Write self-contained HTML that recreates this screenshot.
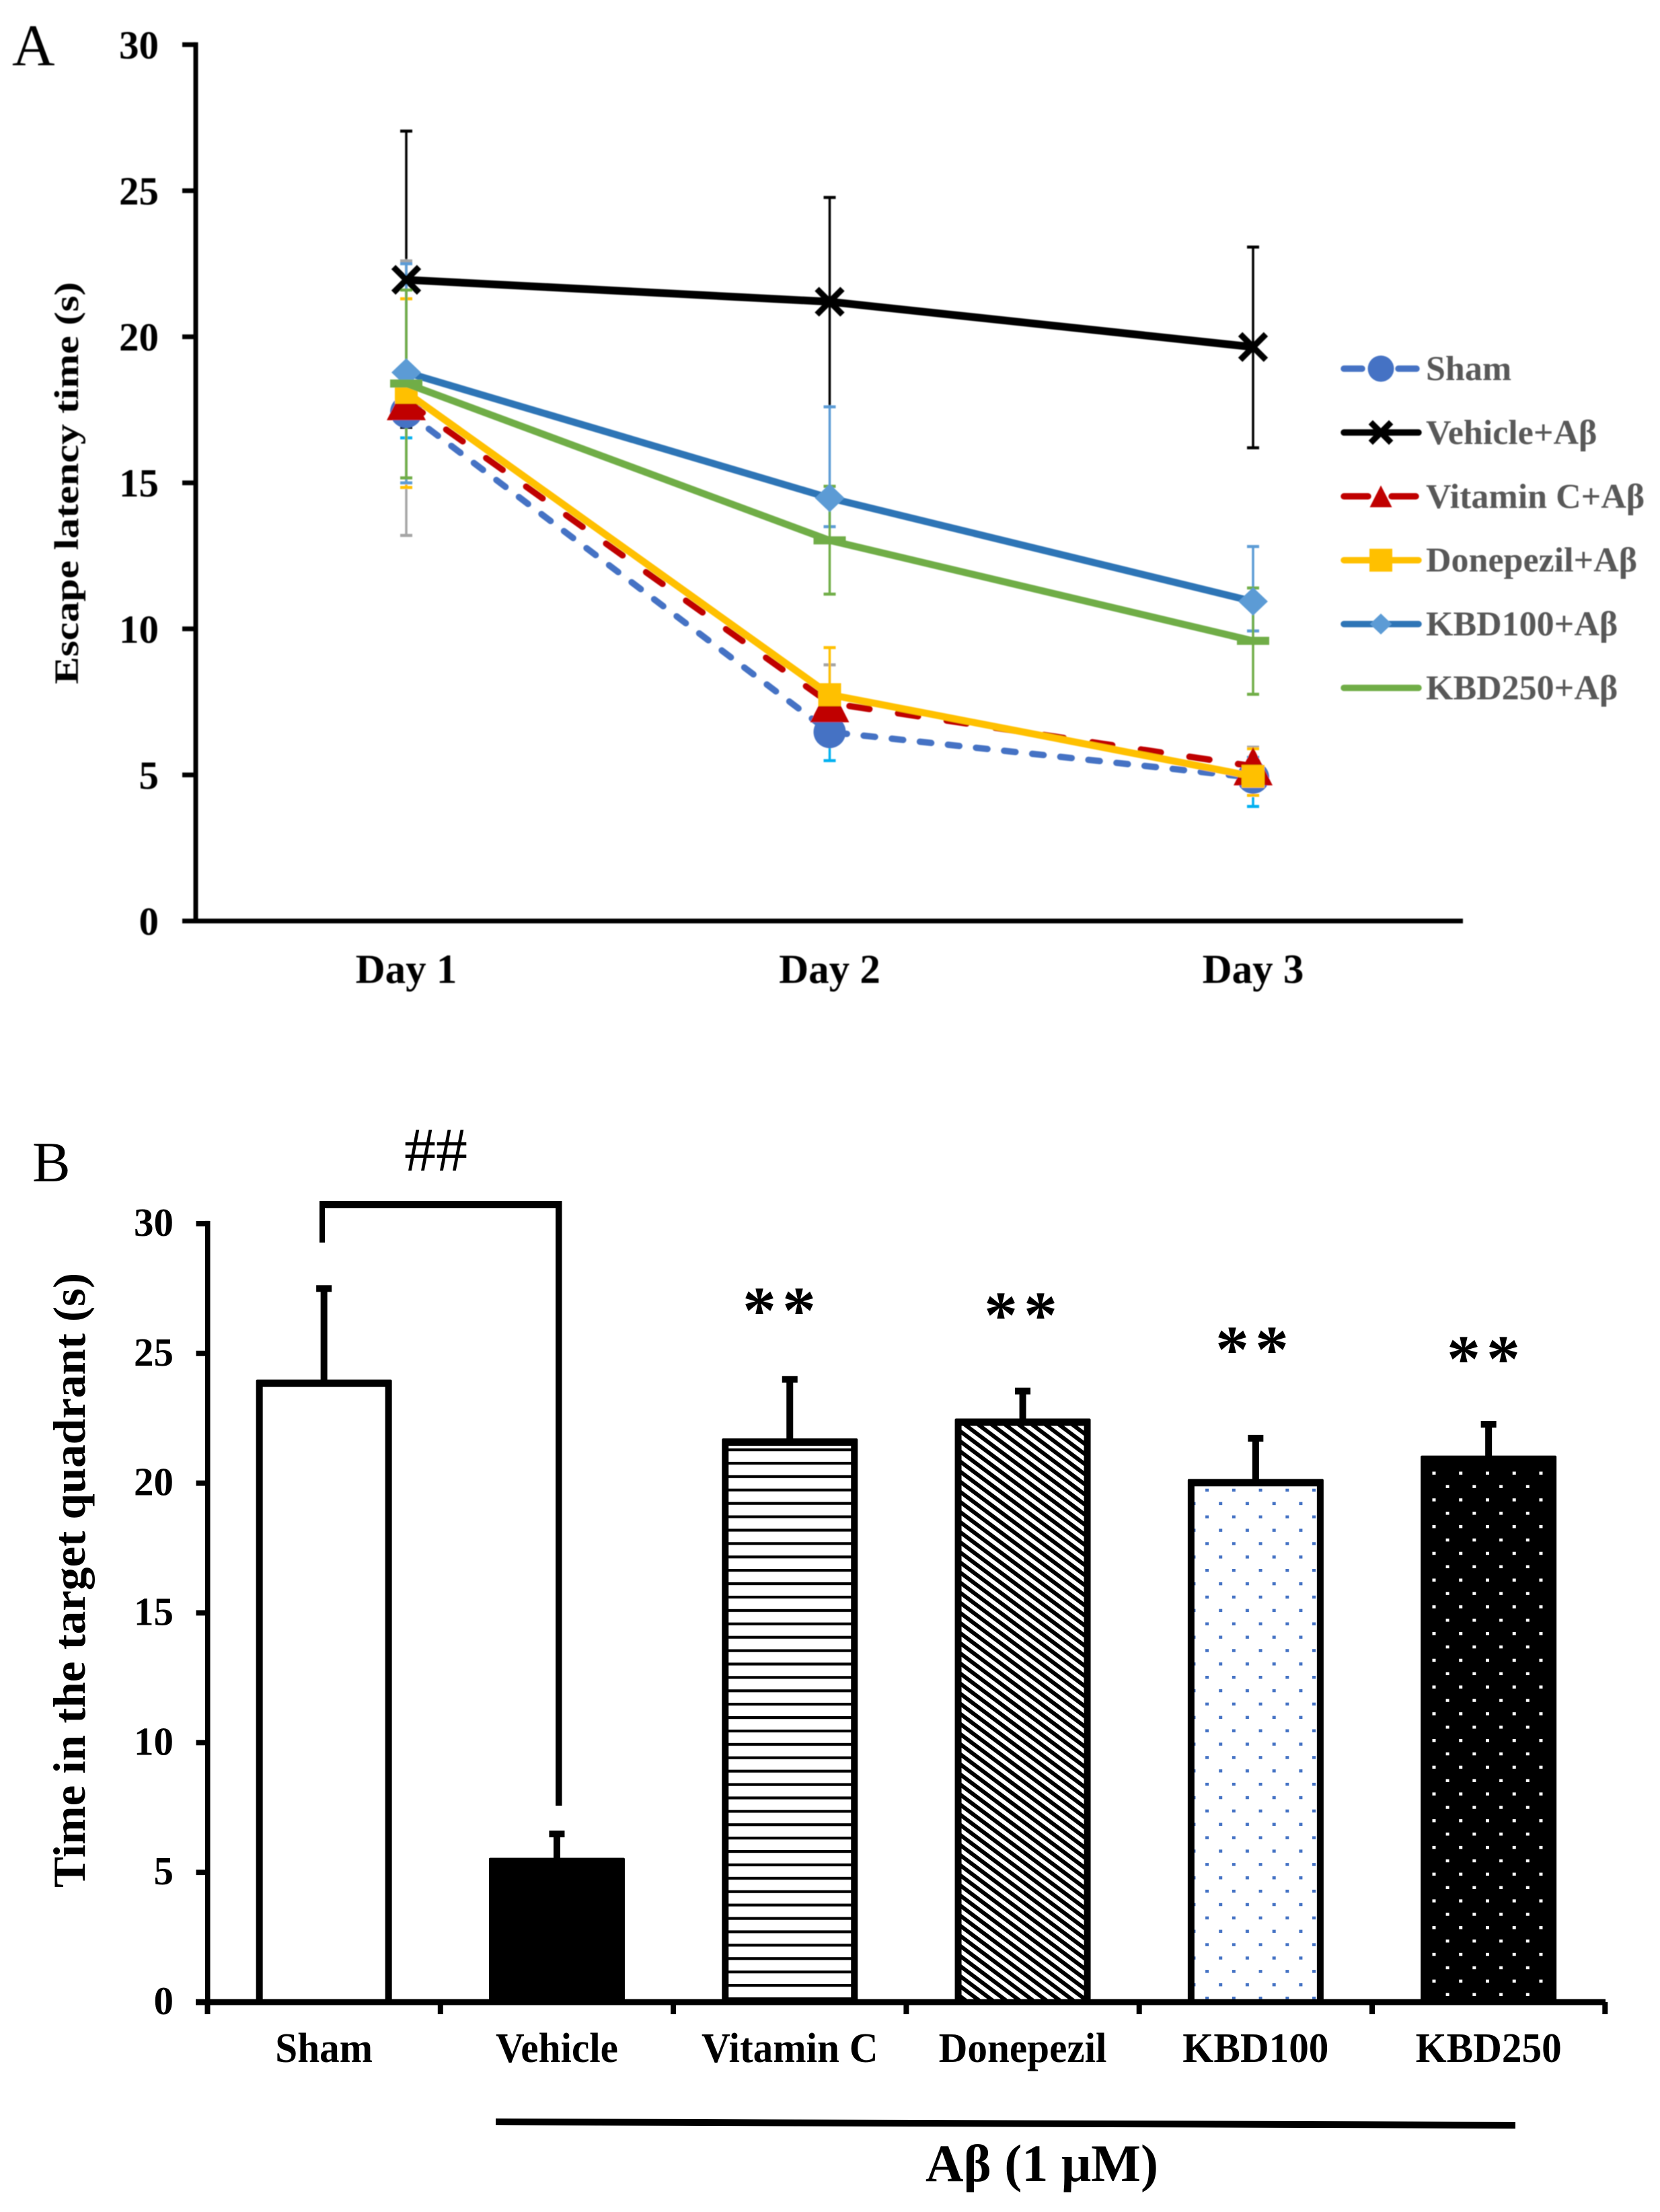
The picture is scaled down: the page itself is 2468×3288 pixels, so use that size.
<!DOCTYPE html>
<html lang="en">
<head>
<meta charset="utf-8">
<title>Escape latency and time in target quadrant</title>
<style>
html,body{margin:0;padding:0;background:#fff;}
svg{display:block;}
text{font-family:"Liberation Serif","Noto Serif CJK SC",serif;}
.b{font-weight:bold;}
</style>
</head>
<body>
<svg id="fig" xmlns="http://www.w3.org/2000/svg" width="2468" height="3288" viewBox="0 0 2468 3288">
<defs>
  <filter id="soft" filterUnits="userSpaceOnUse" x="0" y="0" width="2468" height="1600"><feGaussianBlur stdDeviation="0.9"/></filter>
  <pattern id="hlines" patternUnits="userSpaceOnUse" x="0" y="2153" width="100" height="19.9">
    <rect width="100" height="19.9" fill="#fff"/><rect width="100" height="4.2" fill="#000"/>
  </pattern>
  <pattern id="diag" patternUnits="userSpaceOnUse" x="1430" y="2118" width="20" height="15">
    <rect width="20" height="15" fill="#fff"/>
    <polygon points="0,0 10,0 20,7.5 20,15" fill="#000"/>
    <polygon points="0,7.5 10,15 0,15" fill="#000"/>
  </pattern>
  <pattern id="bluedots" patternUnits="userSpaceOnUse" x="1792.1" y="2212.8" width="39.74" height="39.74">
    <rect width="39.74" height="39.74" fill="#fff"/>
    <rect width="5" height="4.5" fill="#4472C4"/>
    <rect x="20.1" y="19.87" width="5" height="4.5" fill="#4472C4"/>
  </pattern>
  <pattern id="whitedots" patternUnits="userSpaceOnUse" x="2129.5" y="2187.5" width="39.74" height="39.74">
    <rect width="39.74" height="39.74" fill="#000"/>
    <rect width="5" height="4.5" fill="#fff"/>
    <rect x="20.1" y="19.87" width="5" height="4.5" fill="#fff"/>
  </pattern>
</defs>
<rect width="2468" height="3288" fill="#fff"/>

<g filter="url(#soft)">
<text x="18" y="97" font-size="88">A</text>
<text transform="translate(116,1017) rotate(-90)" class="b" font-size="51" textLength="598" lengthAdjust="spacingAndGlyphs">Escape latency time (s)</text>
<g id="chartA"></g>
<g id="legendA"></g>
</g>

<text x="48" y="1756" font-size="85">B</text>
<text transform="translate(126,2806) rotate(-90)" class="b" font-size="68" textLength="914" lengthAdjust="spacingAndGlyphs">Time in the target quadrant (s)</text>
<g id="chartB"></g>

<g fill="#000">
  <rect x="475" y="1785" width="360.5" height="11"/>
  <rect x="475" y="1785" width="8" height="62"/>
  <rect x="826" y="1785" width="9.5" height="899"/>
</g>
<text x="601" y="1740" font-size="92" textLength="94" lengthAdjust="spacingAndGlyphs">##</text>
<text x="1104" y="1981" class="b" font-size="100" letter-spacing="9">**</text>
<text x="1463" y="1988" class="b" font-size="100" letter-spacing="9">**</text>
<text x="1807" y="2039" class="b" font-size="100" letter-spacing="9">**</text>
<text x="2151" y="2053" class="b" font-size="100" letter-spacing="9">**</text>

<line x1="737" y1="3154" x2="2253" y2="3159" stroke="#000" stroke-width="10"/>
<text x="1376" y="3242" class="b" font-size="78" textLength="346" lengthAdjust="spacingAndGlyphs">Aβ (1 μM)</text>
</svg>

<script>
// ---------- Panel A data ----------
const dayLabels = ['Day 1', 'Day 2', 'Day 3'];
const yTicksA = [0, 5, 10, 15, 20, 25, 30];
const seriesNames = ['Sham', 'Vehicle+Aβ', 'Vitamin C+Aβ', 'Donepezil+Aβ', 'KBD100+Aβ', 'KBD250+Aβ'];

const shamMeans = [17.43, 6.47, 4.91];
const shamUpper = [18.1, 7.4, 5.6];
const shamLower = [16.54, 5.49, 3.92];

const vehicleMeans = [21.95, 21.2, 19.65];
const vehicleUpper = [27.04, 24.77, 23.07];
const vehicleLower = [16.9, 17.6, 16.2];

const vitaminMeans = [17.8, 7.46, 5.3];
const vitaminUpper = [22.6, 8.77, 5.95];
const vitaminLower = [13.2, 6.1, 4.6];

const donepezilMeans = [18.1, 7.75, 4.95];
const donepezilUpper = [21.3, 9.36, 5.9];
const donepezilLower = [14.84, 6.1, 4.3];

const kbd100Means = [18.78, 14.48, 10.94];
const kbd100Upper = [22.5, 17.6, 12.82];
const kbd100Lower = [15.0, 13.5, 9.93];

const kbd250Means = [18.4, 13.03, 9.59];
const kbd250Upper = [21.6, 14.88, 11.4];
const kbd250Lower = [15.17, 11.19, 7.76];

// ---------- Panel B data ----------
const barLabels = ['Sham', 'Vehicle', 'Vitamin C', 'Donepezil', 'KBD100', 'KBD250'];
const barValues = [23.85, 5.42, 21.58, 22.35, 20.02, 20.92];
const barErrorTops = [27.5, 6.48, 24.0, 23.55, 21.73, 22.27];
const yTicksB = [0, 5, 10, 15, 20, 25, 30];

// ---------- helpers ----------
const NS = 'http://www.w3.org/2000/svg';
function mk(parent, tag, attrs, txt) {
  const el = document.createElementNS(NS, tag);
  for (const k in attrs) el.setAttribute(k, attrs[k]);
  if (txt !== undefined) el.textContent = txt;
  parent.appendChild(el);
  return el;
}
function slug(s) {
  return s.toLowerCase().replace(/β/g, 'beta').replace(/[^a-z0-9]+/g, '-');
}

// ---------- Panel A axes ----------
const chartA = document.getElementById('chartA');
const legendA = document.getElementById('legendA');
const yA = v => 1369 - v * 43.42;
const xA = i => 604 + i * 629.5;

function marker(parent, kind, cx, cy, s, color) {
  let el;
  if (kind === 'circle') {
    el = mk(parent, 'circle', {cx: cx, cy: cy, r: 24 * s, fill: color});
  } else if (kind === 'x') {
    const r = 19 * s;
    el = mk(parent, 'path', {d: `M${cx - r} ${cy - r}L${cx + r} ${cy + r}M${cx - r} ${cy + r}L${cx + r} ${cy - r}`, stroke: color, 'stroke-width': 9, fill: 'none'});
  } else if (kind === 'triangle') {
    const w = 29 * s, h = 28.5 * s;
    el = mk(parent, 'polygon', {points: `${cx},${cy - h} ${cx + w},${cy + h} ${cx - w},${cy + h}`, fill: color});
  } else if (kind === 'square') {
    const a = 17 * s;
    el = mk(parent, 'rect', {x: cx - a, y: cy - a, width: 2 * a, height: 2 * a, fill: color});
  } else if (kind === 'diamond') {
    const w = 22 * s, h = 21 * s;
    el = mk(parent, 'polygon', {points: `${cx},${cy - h} ${cx + w},${cy} ${cx},${cy + h} ${cx - w},${cy}`, fill: color});
  } else {
    el = mk(parent, 'rect', {x: cx - 24, y: cy - 6, width: 48, height: 12, fill: color});
  }
  return el;
}

const axisA = mk(chartA, 'g', {});


const yAxisA = mk(axisA, 'line', {x1: 291, y1: yA(30) - 3.5, x2: 291, y2: yA(0) + 3.5, stroke: '#000', 'stroke-width': 7});


const xAxisA = mk(axisA, 'line', {x1: 288, y1: yA(0), x2: 2175, y2: yA(0), stroke: '#000', 'stroke-width': 7});


yTicksA.forEach(t => {
  const tick = mk(axisA, 'line', {x1: 271, y1: yA(t), x2: 291, y2: yA(t), stroke: '#000', 'stroke-width': 7});
  
  
  const lab = mk(axisA, 'text', {x: 236, y: yA(t) + 20.5, 'text-anchor': 'end', 'font-size': 59, 'font-weight': 'bold'}, String(t));
  
  
});
dayLabels.forEach((d, i) => {
  const lab = mk(axisA, 'text', {x: xA(i), y: 1461, 'text-anchor': 'middle', 'font-size': 61, 'font-weight': 'bold'}, d);
  
  
});

const seriesDefs = [
  {name: seriesNames[0], means: shamMeans, up: shamUpper, lo: shamLower, line: '#4472C4', mark: '#4472C4', err: '#00B0F0', kind: 'circle', dash: '17 25', w: 9.5},
  {name: seriesNames[1], means: vehicleMeans, up: vehicleUpper, lo: vehicleLower, line: '#000000', mark: '#000000', err: '#000000', kind: 'x', dash: '', w: 11.5},
  {name: seriesNames[2], means: vitaminMeans, up: vitaminUpper, lo: vitaminLower, line: '#C00000', mark: '#C00000', err: '#A5A5A5', kind: 'triangle', dash: '30 43', w: 9.5},
  {name: seriesNames[3], means: donepezilMeans, up: donepezilUpper, lo: donepezilLower, line: '#FFC000', mark: '#FFC000', err: '#FFC000', kind: 'square', dash: '', w: 10.5},
  {name: seriesNames[4], means: kbd100Means, up: kbd100Upper, lo: kbd100Lower, line: '#2E75B6', mark: '#5B9BD5', err: '#5B9BD5', kind: 'diamond', dash: '', w: 10.5},
  {name: seriesNames[5], means: kbd250Means, up: kbd250Upper, lo: kbd250Lower, line: '#70AD47', mark: '#70AD47', err: '#70AD47', kind: 'dash', dash: '', w: 10.5}
];

// error bars first
seriesDefs.forEach(s => {
  const g = mk(chartA, 'g', {stroke: s.err, fill: 'none'});
  
  
  s.means.forEach((m, i) => {
    const x = xA(i);
    mk(g, 'line', {x1: x, y1: yA(s.up[i]), x2: x, y2: yA(s.lo[i]), 'stroke-width': 3.5});
    mk(g, 'line', {x1: x - 9, y1: yA(s.up[i]), x2: x + 9, y2: yA(s.up[i]), 'stroke-width': 4.5});
    mk(g, 'line', {x1: x - 9, y1: yA(s.lo[i]), x2: x + 9, y2: yA(s.lo[i]), 'stroke-width': 4.5});
  });
});
// lines and markers
seriesDefs.forEach(s => {
  const g = mk(chartA, 'g', {});
  
  
  const pts = s.means.map((m, i) => xA(i) + ',' + yA(m)).join(' ');
  const attrs = {points: pts, fill: 'none', stroke: s.line, 'stroke-width': s.w, 'stroke-linejoin': 'round'};
  if (s.dash) { attrs['stroke-dasharray'] = s.dash; attrs['stroke-linecap'] = 'round'; }
  const ln = mk(g, 'polyline', attrs);
  
  
  s.means.forEach((m, i) => {
    const mkEl = marker(g, s.kind, xA(i), yA(m), 1, s.mark);
    
    
  });
});
// legend
const legendY = i => 548 + i * 94.9;
seriesDefs.forEach((s, i) => {
  const y = legendY(i);
  const g = mk(legendA, 'g', {});
  
  
  const attrs = {x1: 1998, y1: y, x2: 2109, y2: y, stroke: s.line, 'stroke-width': 9.5, 'stroke-linecap': 'round'};
  if (s.dash) attrs['stroke-dasharray'] = i === 0 ? '27 54 27' : '36 35 36';
  mk(g, 'line', attrs);
  const legendScale = s.kind === 'circle' ? 0.81 : s.kind === 'triangle' ? 0.57 : s.kind === 'diamond' ? 0.74 : 1;
  if (s.kind !== 'dash') marker(g, s.kind, 2053, y, s.kind === 'x' ? 0.8 : legendScale, s.mark);
  mk(g, 'text', {x: 2120, y: y + 17, 'font-size': 52, 'font-weight': 'bold', fill: '#595959'}, s.name);
});

// ---------- Panel B ----------
const chartB = document.getElementById('chartB');
const yB = v => 2976 - v * 38.57;
const tickXB = i => 308.5 + i * 346.3;
const centerB = i => tickXB(i + 0.5);
const barFills = ['#fff', '#000', 'url(#hlines)', 'url(#diag)', 'url(#bluedots)', 'url(#whitedots)'];

barValues.forEach((v, i) => {
  const cx = centerB(i), top = yB(v), errTop = yB(barErrorTops[i]);
  const g = mk(chartB, 'g', {});
  
  
  const stem = mk(g, 'rect', {x: cx - 5, y: errTop, width: 10, height: top - errTop, fill: '#000'});
  
  
  const cap = mk(g, 'rect', {x: cx - 11.5, y: errTop - 5, width: 23, height: 10, fill: '#000'});
  
  
  const outer = mk(g, 'rect', {x: cx - 101, y: top - 5.5, width: 202, height: 2976 - top + 5.5, fill: '#000', rx: 2});
  
  
  const inner = mk(g, 'rect', {x: cx - 91, y: top + 5.5, width: 182, height: 2976 - top - 5.5, fill: barFills[i]});
  
  
  const lab = mk(chartB, 'text', {transform: `translate(${cx},3065) scale(0.955,1)`, 'text-anchor': 'middle', 'font-size': 62, 'font-weight': 'bold'}, barLabels[i]);
  
  
});

const yAxisB = mk(chartB, 'rect', {x: 305, y: yB(30) - 4, width: 7.5, height: yB(0) - yB(30) + 4, fill: '#000'});


const xAxisB = mk(chartB, 'rect', {x: 291, y: 2971.5, width: 2096, height: 9, fill: '#000'});


yTicksB.forEach(t => {
  const tick = mk(chartB, 'rect', {x: 291.5, y: yB(t) - 4, width: 20, height: 8, fill: '#000'});
  
  
  const lab = mk(chartB, 'text', {x: 258, y: yB(t) + 18, 'text-anchor': 'end', 'font-size': 59, 'font-weight': 'bold'}, String(t));
  
  
});
for (let i = 0; i <= barLabels.length; i++) {
  const tick = mk(chartB, 'rect', {x: tickXB(i) - 4, y: 2976, width: 8, height: 18, fill: '#000'});
  
  
}
</script>
</body>
</html>
